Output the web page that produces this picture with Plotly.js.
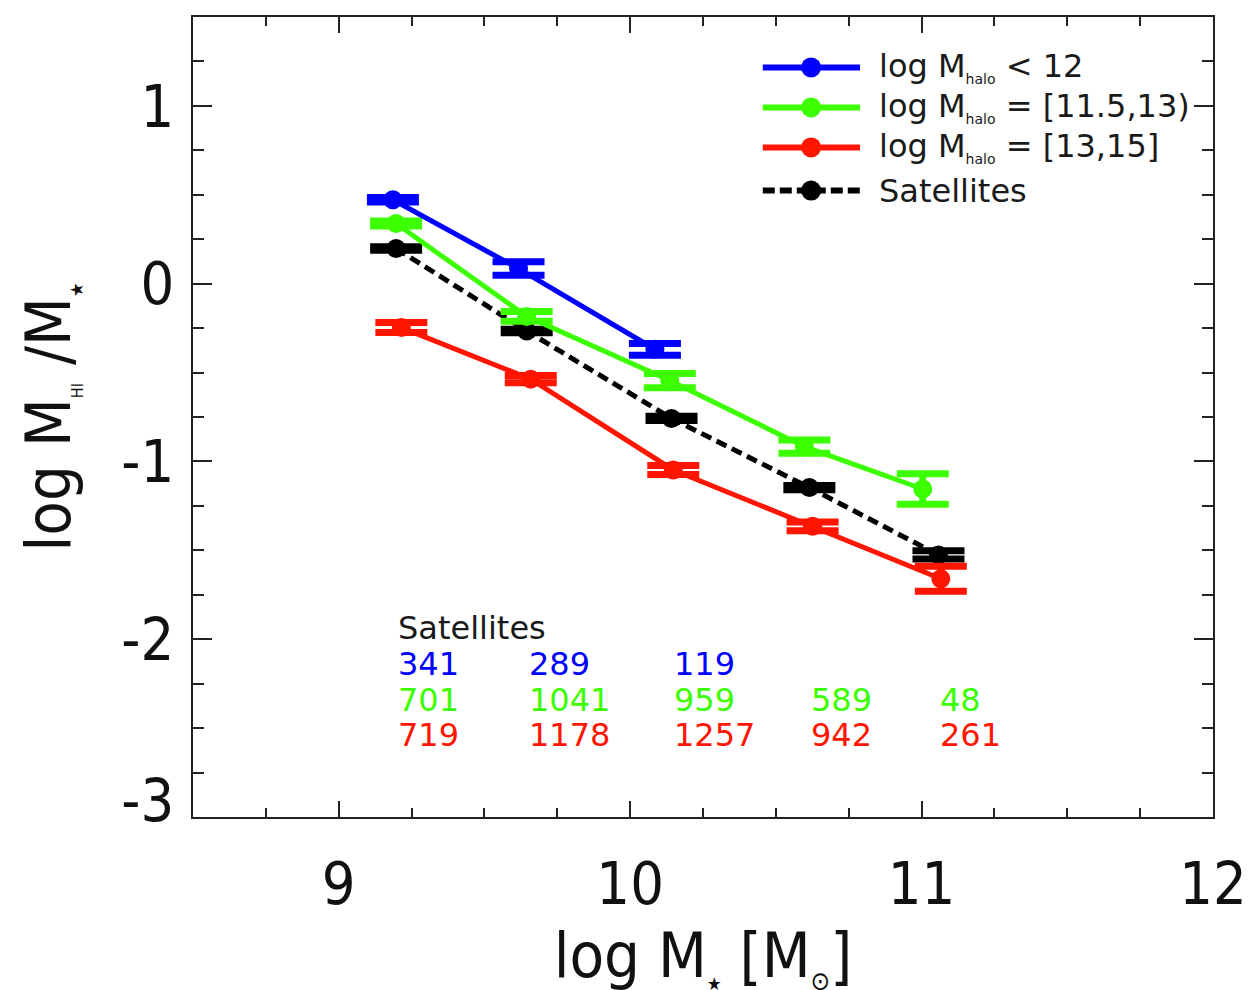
<!DOCTYPE html>
<html>
<head>
<meta charset="utf-8">
<script src="https://cdn.plot.ly/plotly-3.0.1.min.js"></script>
<style>
  html, body { margin: 0; padding: 0; background: #fff; }
  #chart { width: 1250px; height: 990px; }
</style>
</head>
<body>
<div id="chart"></div>
<script>
// HI gas fraction vs stellar mass for satellites, split by host halo mass
const xBlue  = [9.186, 9.617, 10.085];
const yBlue  = [0.472, 0.085, -0.369];
const eBlue  = [0.012, 0.038, 0.033];

const xGreen = [9.197, 9.645, 10.136, 10.598, 11.004];
const yGreen = [0.338, -0.184, -0.545, -0.917, -1.155];
const eGreen = [0.014, 0.028, 0.040, 0.037, 0.086];

const xRed   = [9.215, 9.659, 10.148, 10.626, 11.066];
const yRed   = [-0.247, -0.537, -1.048, -1.365, -1.660];
const eRed   = [0.028, 0.020, 0.025, 0.025, 0.070];

const xSat   = [9.197, 9.645, 10.142, 10.615, 11.058];
const ySat   = [0.198, -0.266, -0.758, -1.147, -1.526];
const eSat   = [0.010, 0.010, 0.012, 0.012, 0.023];

// number of satellites per stellar-mass bin
const nBlue  = [341, 289, 119];
const nGreen = [701, 1041, 959, 589, 48];
const nRed   = [719, 1178, 1257, 942, 261];

const seriesNames = [
  'log M<sub><span style="font-size:14px">halo</span></sub> &lt; 12',
  'log M<sub><span style="font-size:14px">halo</span></sub> = [11.5,13)',
  'log M<sub><span style="font-size:14px">halo</span></sub> = [13,15]',
  'Satellites'
];
const xTicks = [9, 10, 11, 12];
const xTickText = ['9', '10', '11', '12'];
const yTicks = [-3, -2, -1, 0, 1];
const yTickText = ['-3', '-2', '-1', '0', '1'];

const BLUE = '#0000ff', GREEN = '#3cff00', RED = '#ff1500', BLACK = '#000000';
const COND = '"DejaVu Sans Condensed", "DejaVu Sans", sans-serif';
const SANS = '"DejaVu Sans", sans-serif';
const AXC = '#222222';

function series(x, y, e, color, dash) {
  return {
    type: 'scatter', mode: 'lines+markers', x: x, y: y,
    line: { color: color, width: 5, dash: dash || 'solid' },
    marker: { color: color, size: 19 },
    error_y: { type: 'data', array: e, visible: true, color: color, thickness: 7, width: 26 },
    hoverinfo: 'x+y'
  };
}

const traces = [
  series(xSat, ySat, eSat, BLACK, '11px,6px'),
  series(xRed, yRed, eRed, RED),
  series(xGreen, yGreen, eGreen, GREEN),
  series(xBlue, yBlue, eBlue, BLUE)
];

// legend drawn in paper coordinates
const legendColors = [BLUE, GREEN, RED, BLACK];
const legendDash = ['solid', 'solid', 'solid', '12px,5px'];
const legendRowsY = [0.937, 0.887, 0.837, 0.783];
const shapes = [];
const annotations = [];
legendColors.forEach((c, i) => {
  shapes.push({ type: 'line', xref: 'paper', yref: 'paper', x0: 0.5586, x1: 0.654,
    y0: legendRowsY[i], y1: legendRowsY[i], line: { color: c, width: 6, dash: legendDash[i] } });
  shapes.push({ type: 'circle', xref: 'paper', yref: 'paper', xsizemode: 'pixel', ysizemode: 'pixel',
    xanchor: 0.606, yanchor: legendRowsY[i], x0: -10, x1: 10, y0: -10, y1: 10,
    fillcolor: c, line: { color: c, width: 0 } });
  annotations.push({ xref: 'paper', yref: 'paper', x: 0.6706, y: legendRowsY[i],
    xanchor: 'left', yanchor: 'middle', showarrow: false, text: seriesNames[i],
    font: { family: SANS, size: 32, color: '#1a1a1a' } });
});

// satellite counts under the curves
annotations.push({ x: xSat[0], y: -1.937, xanchor: 'left', yanchor: 'middle', showarrow: false,
  text: 'Satellites', font: { family: SANS, size: 32, color: '#1a1a1a' } });
[[nBlue, BLUE, -2.139], [nGreen, GREEN, -2.341], [nRed, RED, -2.538]].forEach(([counts, col, yy]) => {
  counts.forEach((n, j) => {
    annotations.push({ x: xSat[j], y: yy, xanchor: 'left', yanchor: 'middle', showarrow: false,
      text: String(n), font: { family: SANS, size: 32, color: col } });
  });
});

const axisCommon = {
  showgrid: false, zeroline: false, showline: true, linewidth: 2, linecolor: AXC,
  mirror: 'ticks', ticks: 'inside', tickwidth: 2, tickcolor: AXC,
  tickfont: { family: COND, size: 59, color: '#111' }
};

const layout = {
  width: 1250, height: 990,
  margin: { l: 193, r: 37, t: 17, b: 173 },
  paper_bgcolor: '#ffffff', plot_bgcolor: '#ffffff',
  showlegend: false,
  xaxis: Object.assign({}, axisCommon, {
    range: [8.5, 12], tickmode: 'array', tickvals: xTicks, ticktext: xTickText, ticklen: 16,
    ticklabelstandoff: 14,
    minor: { dtick: 0.25, tick0: 0, ticks: 'inside', ticklen: 9, tickwidth: 2, tickcolor: AXC, showgrid: false },
    title: { text: 'log M<sub><span style="font-size:18px">★</span></sub> [M<sub><span style="font-size:26px">⊙</span></sub>]',
      font: { family: COND, size: 63, color: '#111' }, standoff: 30 }
  }),
  yaxis: Object.assign({}, axisCommon, {
    range: [-3, 1.5], tickmode: 'array', tickvals: yTicks, ticktext: yTickText, ticklen: 19,
    ticklabelstandoff: 5,
    minor: { dtick: 0.25, tick0: 0, ticks: 'inside', ticklen: 11, tickwidth: 2, tickcolor: AXC, showgrid: false },
    title: { text: 'log M<sub><span style="font-size:16px">HI</span></sub> /M<sub><span style="font-size:18px">★</span></sub>',
      font: { family: COND, size: 63, color: '#111' }, standoff: 30 }
  }),
  shapes: shapes,
  annotations: annotations
};

Plotly.newPlot('chart', traces, layout, { displayModeBar: false, staticPlot: true }).then(gd => {
  // keep the bottom y label inside the frame height
  gd.querySelectorAll('.ytick').forEach(g => {
    if (g.textContent.trim() === '-3') g.setAttribute('transform', 'translate(0,-17)');
  });
  // nudge the x title a few pixels further from the tick labels
  const xt = gd.querySelector('.g-xtitle');
  if (xt) {
    const t = xt.getAttribute('transform') || '';
    xt.setAttribute('transform', (t + ' translate(0,6)').trim());
  }
});
</script>
</body>
</html>
